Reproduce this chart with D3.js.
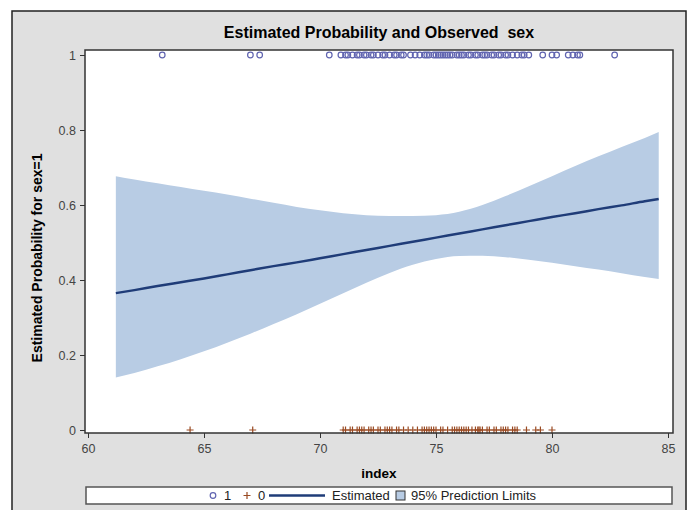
<!DOCTYPE html>
<meta charset="utf-8">
<head>
<title>Estimated Probability and Observed sex</title>
<script src="https://cdn.jsdelivr.net/npm/d3@7"></script>
<style>
  body { margin: 0; background: #fff; }
  svg { display: block; font-family: "Liberation Sans", Arial, sans-serif; }
</style>
</head>
<body>
<div id="chart"></div>
<script>
// fitted curve and prediction limits
const fitIndex = [61.2, 62, 63, 64, 65, 66, 67, 68, 69, 70, 71, 72, 73, 74, 75, 76, 77, 78, 79, 80, 81, 82, 83, 84, 84.6];
const estimated = [0.365, 0.373, 0.384, 0.394, 0.404, 0.415, 0.426, 0.437, 0.447, 0.458, 0.469, 0.480, 0.491, 0.502, 0.513, 0.524, 0.535, 0.546, 0.557, 0.568, 0.578, 0.589, 0.599, 0.610, 0.616];
const upperLimit = [0.677, 0.668, 0.658, 0.648, 0.638, 0.628, 0.617, 0.606, 0.595, 0.586, 0.578, 0.573, 0.571, 0.571, 0.573, 0.582, 0.600, 0.624, 0.650, 0.677, 0.704, 0.730, 0.755, 0.779, 0.795];
const lowerLimit = [0.140, 0.152, 0.170, 0.189, 0.210, 0.233, 0.257, 0.283, 0.309, 0.337, 0.365, 0.393, 0.419, 0.441, 0.456, 0.464, 0.465, 0.461, 0.454, 0.446, 0.437, 0.428, 0.418, 0.408, 0.403];

// observed index values for sex=1 (circles) and sex=0 (crosses)
const observed1 = [63.2, 67.0, 67.4, 70.4, 70.9, 71.1, 71.2, 71.4, 71.6, 71.7, 71.9, 72.0, 72.2, 72.3, 72.5, 72.7, 72.8, 73.0, 73.2, 73.3, 73.5, 73.6, 73.9, 74.1, 74.3, 74.5, 74.6, 74.7, 74.9, 75.0, 75.1, 75.2, 75.3, 75.4, 75.5, 75.6, 75.7, 75.9, 76.0, 76.1, 76.2, 76.4, 76.5, 76.7, 76.8, 77.0, 77.1, 77.2, 77.4, 77.5, 77.7, 77.8, 78.0, 78.1, 78.3, 78.5, 78.7, 78.8, 79.0, 79.6, 80.0, 80.2, 80.7, 80.9, 81.1, 81.2, 82.7];
const observed0 = [64.4, 67.1, 71.0, 71.1, 71.3, 71.4, 71.6, 71.7, 71.8, 71.9, 72.1, 72.2, 72.3, 72.5, 72.6, 72.8, 72.9, 73.0, 73.1, 73.3, 73.4, 73.6, 73.8, 74.0, 74.2, 74.4, 74.5, 74.6, 74.7, 74.8, 74.9, 75.0, 75.2, 75.3, 75.5, 75.7, 75.8, 75.9, 76.0, 76.1, 76.2, 76.3, 76.4, 76.55, 76.7, 76.8, 76.85, 76.9, 77.0, 77.2, 77.3, 77.5, 77.6, 77.8, 77.9, 78.0, 78.1, 78.3, 78.4, 78.5, 78.9, 79.3, 79.5, 80.0];

const xTicks = [60, 65, 70, 75, 80, 85];
const yTicks = [0, 0.2, 0.4, 0.6, 0.8, 1];

const W = 690, H = 510;
const frame = { left: 85, right: 673, top: 50, bottom: 433 };

const svg = d3.select("#chart").append("svg")
    .attr("width", W)
    .attr("height", H);

// gray page with border
svg.append("rect")
    .attr("x", 12).attr("y", 11)
    .attr("width", 674).attr("height", 520)
    .attr("fill", "#e0e0e0")
    .attr("stroke", "#222")
    .attr("stroke-width", 1.5);

const x = d3.scaleLinear().domain([60, 85]).range([88, 668]);
const y = d3.scaleLinear().domain([0, 1]).range([430, 55]);

// plot area
svg.append("rect")
    .attr("x", frame.left).attr("y", frame.top)
    .attr("width", frame.right - frame.left)
    .attr("height", frame.bottom - frame.top)
    .attr("fill", "#fff");

const fit = fitIndex.map((d, i) => ({ x: d, est: estimated[i], lo: lowerLimit[i], hi: upperLimit[i] }));

svg.append("path")
    .datum(fit)
    .attr("fill", "#b8cce4")
    .attr("d", d3.area().curve(d3.curveMonotoneX)
        .x(d => x(d.x)).y0(d => y(d.lo)).y1(d => y(d.hi)));

svg.append("path")
    .datum(fit)
    .attr("fill", "none")
    .attr("stroke", "#1f3c78")
    .attr("stroke-width", 2.5)
    .attr("d", d3.line().curve(d3.curveMonotoneX)
        .x(d => x(d.x)).y(d => y(d.est)));

// observed points
svg.append("g").selectAll("circle")
    .data(observed1)
    .join("circle")
    .attr("cx", d => x(d))
    .attr("cy", y(1))
    .attr("r", 2.8)
    .attr("fill", "none")
    .attr("stroke", "#6064b0")
    .attr("stroke-width", 1.2);

svg.append("g").selectAll("path")
    .data(observed0)
    .join("path")
    .attr("d", d => `M${x(d) - 3.5},${y(0)}h7M${x(d)},${y(0) - 3.5}v7`)
    .attr("stroke", "#9a4a22")
    .attr("stroke-width", 1.2);

// frame border on top
svg.append("rect")
    .attr("x", frame.left).attr("y", frame.top)
    .attr("width", frame.right - frame.left)
    .attr("height", frame.bottom - frame.top)
    .attr("fill", "none")
    .attr("stroke", "#333")
    .attr("stroke-width", 1.5);

// axes
const yAxis = svg.append("g")
    .attr("transform", `translate(${frame.left},0)`)
    .call(d3.axisLeft(y).tickValues(yTicks).tickFormat(d3.format("~g")).tickSize(5).tickPadding(4));
const xAxis = svg.append("g")
    .attr("transform", `translate(0,${frame.bottom})`)
    .call(d3.axisBottom(x).tickValues(xTicks).tickSize(5).tickPadding(6));

[xAxis, yAxis].forEach(g => {
    g.select(".domain").remove();
    g.selectAll(".tick line").attr("stroke", "#333");
    g.selectAll(".tick text")
        .attr("fill", "#444")
        .style("font-size", "12.5px")
        .style("font-family", "'Liberation Sans', Arial, sans-serif");
});

// titles
svg.append("text")
    .attr("x", (frame.left + frame.right) / 2)
    .attr("y", 38)
    .attr("text-anchor", "middle")
    .style("font-size", "16px")
    .style("font-weight", "bold")
    .style("white-space", "pre")
    .text("Estimated Probability and Observed  sex");

svg.append("text")
    .attr("x", (frame.left + frame.right) / 2)
    .attr("y", 478)
    .attr("text-anchor", "middle")
    .style("font-size", "13.5px")
    .style("font-weight", "bold")
    .text("index");

svg.append("text")
    .attr("transform", "translate(42,258) rotate(-90)")
    .attr("text-anchor", "middle")
    .style("font-size", "14px")
    .style("font-weight", "bold")
    .text("Estimated Probability for sex=1");

// legend
const leg = svg.append("g");
leg.append("rect")
    .attr("x", 86).attr("y", 487)
    .attr("width", 586).attr("height", 17)
    .attr("fill", "#fff")
    .attr("stroke", "#555")
    .attr("stroke-width", 1.5);

const ly = 495.5;
leg.append("circle")
    .attr("cx", 213).attr("cy", ly).attr("r", 2.8)
    .attr("fill", "none").attr("stroke", "#6064b0").attr("stroke-width", 1.2);
leg.append("text").attr("x", 224).attr("y", ly + 4.5).text("1");
leg.append("path")
    .attr("d", `M${247 - 3.5},${ly}h7M247,${ly - 3.5}v7`)
    .attr("stroke", "#9a4a22").attr("stroke-width", 1.2);
leg.append("text").attr("x", 258).attr("y", ly + 4.5).text("0");
leg.append("line")
    .attr("x1", 269).attr("x2", 325).attr("y1", ly).attr("y2", ly)
    .attr("stroke", "#1f3c78").attr("stroke-width", 2.5);
leg.append("text").attr("x", 332).attr("y", ly + 4.5).text("Estimated");
leg.append("rect")
    .attr("x", 396).attr("y", ly - 4.5).attr("width", 9).attr("height", 9)
    .attr("fill", "#b8cce4").attr("stroke", "#333").attr("stroke-width", 1);
leg.append("text").attr("x", 411).attr("y", ly + 4.5).text("95% Prediction Limits");
leg.selectAll("text").style("font-size", "13px").attr("fill", "#222");
</script>
</body>
</html>
